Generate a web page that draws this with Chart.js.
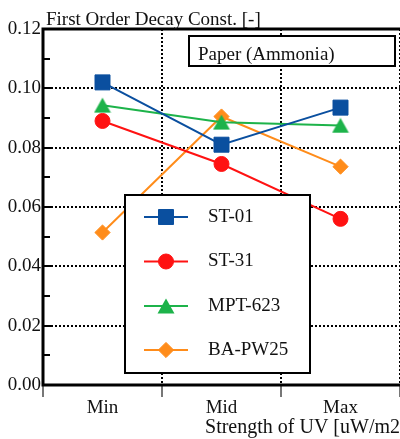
<!DOCTYPE html>
<html><head><meta charset="utf-8">
<script src="https://cdn.jsdelivr.net/npm/chart.js@4"></script>
<style>html,body{margin:0;padding:0;background:#fff;overflow:hidden}canvas{display:block}</style>
</head><body><canvas id="c" width="400" height="439"></canvas>
<script>
const categories = ['Min', 'Mid', 'Max'];
const seriesNames = ['ST-01', 'ST-31', 'MPT-623', 'BA-PW25'];
const st01 = [0.102, 0.081, 0.0935];
const st31 = [0.089, 0.0745, 0.056];
const mpt623 = [0.0943, 0.0886, 0.0875];
const bapw25 = [0.0514, 0.0905, 0.0736];
const yMin = 0, yMax = 0.12, yStep = 0.02, yMinorStep = 0.01;
const yTitle = 'First Order Decay Const. [-]';
const xTitle = 'Strength of UV [uW/m2';
const boxLabel = 'Paper (Ammonia)';

const FONT = '"Liberation Serif", "Times New Roman", serif';
const colors = ['#0a4f9f', '#ff1212', '#1db34a', '#ff8c1a'];

function triangleImg(color) {
  const c = document.createElement('canvas');
  c.width = 18; c.height = 16;
  const g = c.getContext('2d');
  g.fillStyle = color;
  g.beginPath();
  g.moveTo(9, 0.5); g.lineTo(17.5, 15.5); g.lineTo(0.5, 15.5);
  g.closePath(); g.fill();
  return c;
}
const triGreen = triangleImg(colors[2]);

const styles = [
  { pointStyle: 'rect', pointRadius: 10.6 },
  { pointStyle: 'circle', pointRadius: 7.5 },
  { pointStyle: triGreen, pointRadius: 8 },
  { pointStyle: 'rectRot', pointRadius: 7.6 }
];
const seriesData = [st01, st31, mpt623, bapw25];

const datasets = seriesData.map((d, i) => ({
  label: seriesNames[i],
  data: d,
  borderColor: colors[i],
  backgroundColor: colors[i],
  pointBackgroundColor: colors[i],
  pointBorderColor: colors[i],
  pointBorderWidth: 1,
  borderWidth: 2,
  pointStyle: styles[i].pointStyle,
  pointRadius: styles[i].pointRadius,
  pointHoverRadius: styles[i].pointRadius,
  tension: 0,
  clip: false
}));

const framePlugin = {
  id: 'frame',
  beforeDatasetsDraw(chart) {
    const { ctx, chartArea: a, scales } = chart;
    const y = scales.y;
    ctx.save();
    ctx.strokeStyle = '#000';
    ctx.lineWidth = 2;
    ctx.beginPath();
    for (let v = yMin; v <= yMax + 1e-9; v += yMinorStep) {
      const idx = Math.round(v / yMinorStep);
      const py = Math.round(y.getPixelForValue(v));
      const len = idx % 2 === 0 ? 10 : 7;
      ctx.moveTo(a.left, py);
      ctx.lineTo(a.left + len, py);
    }
    ctx.stroke();
    ctx.lineWidth = 3;
    ctx.beginPath();
    ctx.moveTo(a.right + 2, a.top);
    ctx.lineTo(a.left, a.top);
    ctx.lineTo(a.left, a.bottom);
    ctx.lineTo(a.right + 2, a.bottom);
    ctx.stroke();
    ctx.restore();
  },
  afterDatasetsDraw(chart) {
    const { ctx } = chart;
    ctx.save();
    ctx.fillStyle = '#111';
    ctx.font = '19px ' + FONT;
    ctx.textAlign = 'left';
    ctx.textBaseline = 'alphabetic';
    ctx.fillText(yTitle, 46, 25);
    ctx.fillStyle = '#fff';
    ctx.fillRect(189, 36, 206, 30);
    ctx.strokeStyle = '#000';
    ctx.lineWidth = 2;
    ctx.strokeRect(189, 36, 206, 30);
    ctx.fillStyle = '#111';
    ctx.fillText(boxLabel, 198, 60);
    const lx = 125, ly = 195, lw = 185, lh = 178;
    ctx.fillStyle = '#fff';
    ctx.fillRect(lx, ly, lw, lh);
    ctx.lineWidth = 2;
    ctx.strokeStyle = '#000';
    ctx.strokeRect(lx, ly, lw, lh);
    const rows = [217, 261.5, 306, 350];
    chart.data.datasets.forEach((ds, i) => {
      const ry = rows[i];
      ctx.strokeStyle = ds.borderColor;
      ctx.lineWidth = 2;
      ctx.beginPath();
      ctx.moveTo(144, ry);
      ctx.lineTo(188, ry);
      ctx.stroke();
      ctx.fillStyle = ds.backgroundColor;
      ctx.strokeStyle = ds.borderColor;
      ctx.lineWidth = 1;
      Chart.helpers.drawPoint(ctx, {
        pointStyle: ds.pointStyle, radius: ds.pointRadius, rotation: 0, borderWidth: 1
      }, 166, ry);
      ctx.fillStyle = '#111';
      ctx.font = '19px ' + FONT;
      ctx.textBaseline = 'middle';
      ctx.textAlign = 'left';
      ctx.fillText(ds.label, 208, ry);
    });
    ctx.restore();
  }
};

function draw() {
  new Chart(document.getElementById('c'), {
    type: 'line',
    data: { labels: categories, datasets },
    plugins: [framePlugin],
    options: {
      responsive: false,
      animation: false,
      events: [],
      layout: { autoPadding: false, padding: { top: 29, right: 0, left: 0, bottom: 0 } },
      plugins: { legend: { display: false }, tooltip: { enabled: false }, title: { display: false } },
      scales: {
        x: {
          type: 'category',
          offset: true,
          afterFit(s) { s.height = 54; s.paddingLeft = 0; s.paddingRight = 0; },
          grid: {
            offset: true,
            display: true,
            drawOnChartArea: true,
            color: '#000',
            lineWidth: 2,
            drawTicks: true,
            tickLength: 12,
            tickColor: '#777',
            tickWidth: 2
          },
          border: { display: false, dash: [2, 2] },
          ticks: {
            color: '#111',
            font: { family: FONT, size: 19 },
            padding: 0,
            maxRotation: 0
          },
          title: {
            display: true,
            text: xTitle,
            align: 'end',
            color: '#111',
            font: { family: FONT, size: 20 },
            padding: { top: 0, bottom: -1 }
          }
        },
        y: {
          min: yMin,
          max: yMax,
          afterFit(s) { s.width = 43; s.paddingTop = 0; s.paddingBottom = 0; },
          grid: {
            color: (c) => (c.tick && c.tick.value > 0.001 && c.tick.value < yMax - 0.001) ? '#000' : 'rgba(0,0,0,0)',
            lineWidth: 2,
            drawTicks: false
          },
          border: { display: false, dash: [2, 2] },
          ticks: {
            stepSize: yStep,
            color: '#111',
            padding: 2,
            font: { family: FONT, size: 19 },
            callback: (v) => Number(v).toFixed(2)
          }
        }
      }
    }
  });
}
if (document.fonts && document.fonts.load) {
  document.fonts.load('19px "Liberation Serif"').then(draw, draw);
} else { draw(); }
</script>
</body></html>
